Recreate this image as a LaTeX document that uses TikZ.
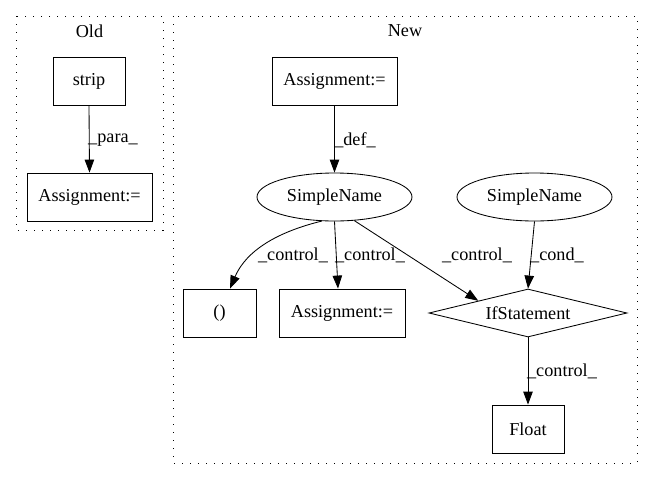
\documentclass[tikz,border=0pt]{standalone}
\usepackage{fontspec}
\setmainfont{Liberation Serif}
\usetikzlibrary{arrows.meta,shapes.geometric}
\tikzset{
  base/.style={draw, line width=0.85pt, inner sep=0pt, font=\fontsize{18.2}{20}\selectfont},
  box/.style={base, rectangle, minimum width=#1, minimum height=48pt},
  oval/.style={base, ellipse, minimum width=155pt, minimum height=48pt},
  dia/.style={base, diamond, aspect=4.125, minimum width=198pt, minimum height=48pt},
  cluster/.style={line width=1pt, dash pattern=on 1.3pt off 6.7pt},
  lbl/.style={font=\fontsize{18.2}{20}\selectfont, inner sep=0pt},
  edge/.style={line width=0.85pt, -{Triangle[length=13pt,width=9.5pt]}},
}
\begin{document}
\begin{tikzpicture}[x=1pt,y=-1pt]
\useasboundingbox (0,0) rectangle (653,480);
% clusters
\draw[cluster] (16,16) rectangle (163,230);
\draw[cluster] (173,16) rectangle (637,463);
\node[lbl] (oldt) at (89.5,31) {Old};
\node[lbl] (newt) at (405,31) {New};
% Old
\node[box=72pt] (strip) at (89,81) {strip};
\node[box=125pt] (asgold) at (89.5,197) {Assignment:=};
% New
\node[box=125pt] (asgtop) at (334.5,81) {Assignment:=};
\node[oval] (sn1) at (334.5,197) {SimpleName};
\node[oval] (sn2) at (534.5,197) {SimpleName};
\node[box=73pt] (paren) at (219.5,313) {()};
\node[box=126pt] (asgbot) at (342,313) {Assignment:=};
\node[dia] (ifs) at (528,313) {IfStatement};
\node[box=72pt] (flt) at (528,429) {Float};
% edges
\draw[edge] (strip.south) -- (asgold.north);
\draw[edge] (asgtop.south) -- (sn1.north);
\draw[edge] (sn1.-118) .. controls (265,235) and (243,258) .. ([xshift=10.5pt]paren.north);
\draw[edge] (sn1.south) -- ([xshift=-4pt]asgbot.north);
\draw[edge] (sn1.-50) -- (ifs.north west);
\draw[edge] (sn2.south) -- (ifs.north);
\draw[edge] (ifs.south) -- (flt.north);
% labels
\node[lbl] (l1) at (113,140) {\_para\_};
\node[lbl] (l2) at (355,140) {\_def\_};
\node[lbl] (l3) at (293,255) {\_control\_};
\node[lbl] (l4) at (370,255) {\_control\_};
\node[lbl] (l5) at (477,255) {\_control\_};
\node[lbl] (l6) at (557,255) {\_cond\_};
\node[lbl] (l7) at (562,371) {\_control\_};
\end{tikzpicture}
\end{document}
